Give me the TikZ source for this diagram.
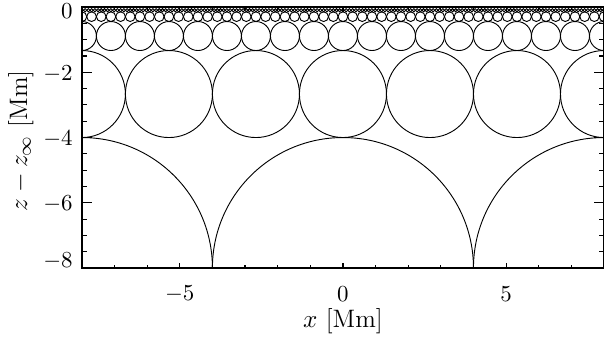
\documentclass[tikz,border=0pt]{standalone}
\usetikzlibrary{positioning}

\begin{document}
\begin{tikzpicture}[x=0.5cm, y=0.5cm,
  circ/.style={line width=0.4pt},
  frame/.style={line width=0.6pt},
  tickmark/.style={line width=0.5pt},
  ticklab/.style={font=\normalsize, inner sep=0pt},
  axlab/.style={font=\fontsize{11}{13}\selectfont}]
  \useasboundingbox (-10.51,-10.115) rectangle (8,0.215);
  % nested layers of circles, radius 4/3^n
  \begin{scope}
    \clip (-8,-8) rectangle (8,0);
    \foreach \n in {0,...,4} {
      \pgfmathsetmacro\rad{4/3^\n}
      \pgfmathtruncatemacro\kmax{3^\n}
      \foreach \k in {-\kmax,...,\kmax}
        \draw[circ] (2*\k*\rad, -2*\rad) circle (\rad);
    }
  \end{scope}
  \draw[frame] (-8,-8) rectangle (8,0);
  % ticks on x axes
  \foreach \v in {-8,...,8} {
    \draw[tickmark] (\v,-8) -- ++(0,0.08);
    \draw[tickmark] (\v,0) -- ++(0,-0.08);
  }
  \foreach \v in {-5,0,5} {
    \draw[tickmark] (\v,-8) -- ++(0,0.16);
    \draw[tickmark] (\v,0) -- ++(0,-0.16);
  }
  % ticks on y axes
  \foreach \v in {-8,-7.5,...,0} {
    \draw[tickmark] (-8,\v) -- ++(0.16,0);
    \draw[tickmark] (8,\v) -- ++(-0.16,0);
  }
  \foreach \v in {-8,-6,...,0} {
    \draw[tickmark] (-8,\v) -- ++(0.32,0);
    \draw[tickmark] (8,\v) -- ++(-0.32,0);
  }
  % tick labels
  \foreach \v in {-5,0,5}
    \node[ticklab] (xtick\v) at (\v,-8.8) {$\v$};
  \foreach \v/\p in {-8/-7.8,-6/-6.05,-4/-4.05,-2/-2.05,0/-0.12}
    \node[ticklab, anchor=east] (ytick\v) at (-8.27,\p) {$\v$};
  % axis labels
  \node[axlab] (xlab) at (0,-9.62) {$x$ [Mm]};
  \node[axlab, rotate=90] (ylab) at (-9.87,-4.1) {$z-z_\infty$ [Mm]};
\end{tikzpicture}
\end{document}
